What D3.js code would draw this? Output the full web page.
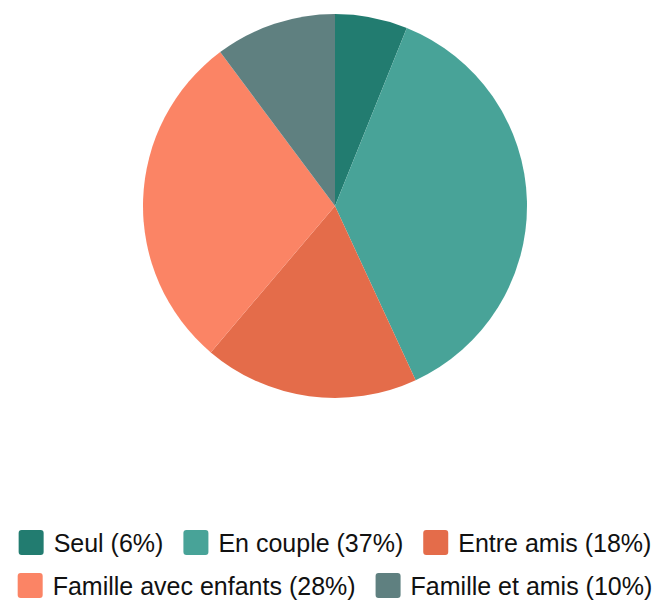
<!DOCTYPE html>
<html>
<head>
<meta charset="utf-8">
<script src="https://cdn.jsdelivr.net/npm/d3@7"></script>
<style>
  body { margin: 0; background: #fff; }
  svg { display: block; }
</style>
</head>
<body>
<svg width="663" height="600"></svg>
<script>
// slice data, clockwise from 12 o'clock
var categories = ['Seul', 'En couple', 'Entre amis', 'Famille avec enfants', 'Famille et amis']
var shares     = [6.1, 37.0, 18.1, 28.6, 10.2]
var labels     = ['6%', '37%', '18%', '28%', '10%']
var colors     = ['#227c70', '#48a398', '#e46c4a', '#fb8465', '#5f8080']

var svg = d3.select('svg')
var cx = 335, cy = 206, radius = 192

var color = d3.scaleOrdinal().domain(categories).range(colors)

var pie = d3.pie().sort(null).value(d => d.value)
var arc = d3.arc().innerRadius(0).outerRadius(radius)

var rows = categories.map((c, i) => ({ name: c, value: shares[i], label: labels[i] }))

svg.append('g')
  .attr('transform', 'translate(' + cx + ',' + cy + ')')
  .selectAll('path')
  .data(pie(rows))
  .enter()
  .append('path')
  .attr('d', arc)
  .style('fill', d => color(d.data.name))

// legend: flow items into rows, center each row
var fontSize = 25, sw = 25, gapText = 10, gapItem = 20, maxWidth = 650
var legend = svg.append('g').style('font-family', '"Liberation Sans", Arial, sans-serif')
  .style('font-size', fontSize + 'px')

var items = legend.selectAll('g.item')
  .data(rows)
  .enter()
  .append('g')
  .attr('class', 'item')

items.append('rect')
  .attr('width', sw).attr('height', sw)
  .attr('rx', 3).attr('ry', 3)
  .style('fill', d => color(d.name))

items.append('text')
  .attr('x', sw + gapText)
  .attr('y', sw / 2)
  .attr('dy', '0.36em')
  .style('fill', '#111')
  .text(d => d.name + ' (' + d.label + ')')

var widths = []
items.each(function () { widths.push(sw + gapText + d3.select(this).select('text').node().getComputedTextLength()) })

var lines = [[]], lineW = [0]
widths.forEach((w, i) => {
  var cur = lines.length - 1
  var add = lines[cur].length ? gapItem + w : w
  if (lineW[cur] + add > maxWidth && lines[cur].length) {
    lines.push([i]); lineW.push(w)
  } else {
    lines[cur].push(i); lineW[cur] += add
  }
})

var rowY = [530, 573]
lines.forEach((line, r) => {
  var x = cx - lineW[r] / 2
  line.forEach(i => {
    d3.select(items.nodes()[i]).attr('transform', 'translate(' + x + ',' + rowY[r] + ')')
    x += widths[i] + gapItem
  })
})
</script>
</body>
</html>
